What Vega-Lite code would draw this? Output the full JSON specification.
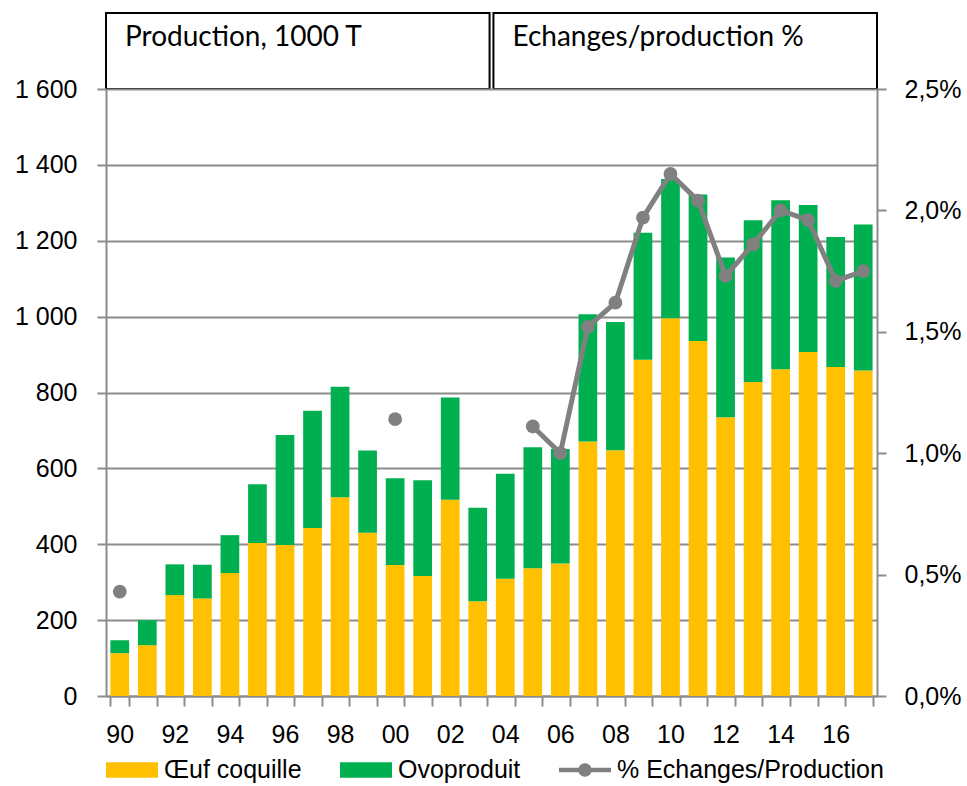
{
  "$schema": "https://vega.github.io/schema/vega-lite/v6.json",
  "padding": {"left": 14, "top": 12, "right": 2, "bottom": 0},
  "background": "white",
  "bounds": "flush",
  "datasets": {
    "headers": [
      {"label": "Production, 1000 T"},
      {"label": "Echanges/production %"}
    ],
    "prod": [
      {"year": 1990, "type": "Œuf coquille", "value": 113}, {"year": 1990, "type": "Ovoproduit", "value": 34},
      {"year": 1991, "type": "Œuf coquille", "value": 134}, {"year": 1991, "type": "Ovoproduit", "value": 66},
      {"year": 1992, "type": "Œuf coquille", "value": 266}, {"year": 1992, "type": "Ovoproduit", "value": 81},
      {"year": 1993, "type": "Œuf coquille", "value": 257}, {"year": 1993, "type": "Ovoproduit", "value": 89},
      {"year": 1994, "type": "Œuf coquille", "value": 324}, {"year": 1994, "type": "Ovoproduit", "value": 100},
      {"year": 1995, "type": "Œuf coquille", "value": 403}, {"year": 1995, "type": "Ovoproduit", "value": 155},
      {"year": 1996, "type": "Œuf coquille", "value": 398}, {"year": 1996, "type": "Ovoproduit", "value": 290},
      {"year": 1997, "type": "Œuf coquille", "value": 443}, {"year": 1997, "type": "Ovoproduit", "value": 309},
      {"year": 1998, "type": "Œuf coquille", "value": 524}, {"year": 1998, "type": "Ovoproduit", "value": 291},
      {"year": 1999, "type": "Œuf coquille", "value": 430}, {"year": 1999, "type": "Ovoproduit", "value": 217},
      {"year": 2000, "type": "Œuf coquille", "value": 345}, {"year": 2000, "type": "Ovoproduit", "value": 229},
      {"year": 2001, "type": "Œuf coquille", "value": 316}, {"year": 2001, "type": "Ovoproduit", "value": 253},
      {"year": 2002, "type": "Œuf coquille", "value": 517}, {"year": 2002, "type": "Ovoproduit", "value": 270},
      {"year": 2003, "type": "Œuf coquille", "value": 250}, {"year": 2003, "type": "Ovoproduit", "value": 246},
      {"year": 2004, "type": "Œuf coquille", "value": 309}, {"year": 2004, "type": "Ovoproduit", "value": 277},
      {"year": 2005, "type": "Œuf coquille", "value": 337}, {"year": 2005, "type": "Ovoproduit", "value": 319},
      {"year": 2006, "type": "Œuf coquille", "value": 349}, {"year": 2006, "type": "Ovoproduit", "value": 302},
      {"year": 2007, "type": "Œuf coquille", "value": 671}, {"year": 2007, "type": "Ovoproduit", "value": 335},
      {"year": 2008, "type": "Œuf coquille", "value": 648}, {"year": 2008, "type": "Ovoproduit", "value": 338},
      {"year": 2009, "type": "Œuf coquille", "value": 886}, {"year": 2009, "type": "Ovoproduit", "value": 335},
      {"year": 2010, "type": "Œuf coquille", "value": 996}, {"year": 2010, "type": "Ovoproduit", "value": 367},
      {"year": 2011, "type": "Œuf coquille", "value": 936}, {"year": 2011, "type": "Ovoproduit", "value": 386},
      {"year": 2012, "type": "Œuf coquille", "value": 735}, {"year": 2012, "type": "Ovoproduit", "value": 421},
      {"year": 2013, "type": "Œuf coquille", "value": 828}, {"year": 2013, "type": "Ovoproduit", "value": 426},
      {"year": 2014, "type": "Œuf coquille", "value": 861}, {"year": 2014, "type": "Ovoproduit", "value": 446},
      {"year": 2015, "type": "Œuf coquille", "value": 907}, {"year": 2015, "type": "Ovoproduit", "value": 387},
      {"year": 2016, "type": "Œuf coquille", "value": 867}, {"year": 2016, "type": "Ovoproduit", "value": 343},
      {"year": 2017, "type": "Œuf coquille", "value": 858}, {"year": 2017, "type": "Ovoproduit", "value": 385}
    ],
    "pct": [
      {"year": 1990, "pct": 0.43}, {"year": 1991, "pct": null}, {"year": 1992, "pct": null},
      {"year": 1993, "pct": null}, {"year": 1994, "pct": null}, {"year": 1995, "pct": null},
      {"year": 1996, "pct": null}, {"year": 1997, "pct": null}, {"year": 1998, "pct": null},
      {"year": 1999, "pct": null}, {"year": 2000, "pct": 1.14}, {"year": 2001, "pct": null},
      {"year": 2002, "pct": null}, {"year": 2003, "pct": null}, {"year": 2004, "pct": null},
      {"year": 2005, "pct": 1.11}, {"year": 2006, "pct": 1.0}, {"year": 2007, "pct": 1.52},
      {"year": 2008, "pct": 1.62}, {"year": 2009, "pct": 1.97}, {"year": 2010, "pct": 2.15},
      {"year": 2011, "pct": 2.04}, {"year": 2012, "pct": 1.73}, {"year": 2013, "pct": 1.86},
      {"year": 2014, "pct": 2.0}, {"year": 2015, "pct": 1.96}, {"year": 2016, "pct": 1.71},
      {"year": 2017, "pct": 1.75}
    ]
  },
  "vconcat": [
    {
      "width": 771,
      "height": 76,
      "data": {"name": "headers"},
      "layer": [
        {
          "mark": {"type": "rect", "fill": "white", "stroke": "black", "strokeWidth": 2},
          "encoding": {
            "x": {"field": "label", "type": "nominal", "sort": null, "axis": null,
                  "scale": {"paddingInner": 0.01, "paddingOuter": 0}}
          }
        },
        {
          "mark": {"type": "text", "align": "left", "baseline": "middle", "dx": 19, "dy": -13,
                   "font": "Lato", "fontSize": 28, "color": "black"},
          "encoding": {
            "x": {"field": "label", "type": "nominal", "sort": null, "bandPosition": 0, "axis": null},
            "text": {"field": "label"}
          }
        }
      ]
    },
    {
      "width": 771,
      "height": 607,
      "layer": [
        {
          "data": {"name": "prod"},
          "mark": {"type": "bar"},
          "encoding": {
            "x": {"field": "year", "type": "ordinal", "title": null,
                  "scale": {"paddingInner": 0.32, "paddingOuter": 0.16},
                  "axis": {"labelExpr": "datum.value % 2 == 0 ? substring(toString(datum.value), 2, 4) : ''",
                           "labelAngle": 0, "tickBand": "extent", "tickSize": 10, "labelPadding": 16,
                           "domainColor": "#8c8c8c", "domainWidth": 2, "tickColor": "#8c8c8c", "tickWidth": 2}},
            "y": {"field": "value", "type": "quantitative", "aggregate": "sum", "stack": "zero", "title": null,
                  "scale": {"domain": [0, 1600], "nice": false},
                  "axis": {"values": [0, 200, 400, 600, 800, 1000, 1200, 1400, 1600],
                           "labelExpr": "replace(format(datum.value, ','), ',', ' ')",
                           "grid": true, "gridColor": "#8c8c8c", "gridWidth": 2,
                           "tickSize": 9, "labelPadding": 20,
                           "domainColor": "#8c8c8c", "domainWidth": 2, "tickColor": "#8c8c8c", "tickWidth": 2}},
            "color": {"field": "type", "type": "nominal",
                      "sort": ["Œuf coquille", "Ovoproduit", "% Echanges/Production"],
                      "scale": {"domain": ["Œuf coquille", "Ovoproduit", "% Echanges/Production"],
                                "range": ["#FFC000", "#00B050", "#808080"]},
                      "legend": {
                        "title": null, "orient": "bottom", "direction": "horizontal", "offset": -3,
                        "symbolSize": 2704, "columnPadding": 38, "labelOffset": 6, "labelLimit": 400,
                        "symbolStrokeWidth": 0,
                        "encode": {
                          "symbols": {
                            "update": {
                              "shape": {"signal": "datum.value === '% Echanges/Production' ? 'M-1,-0.09H1V0.09H-1Z M0.26,0A0.26,0.26 0 1,1 -0.26,0A0.26,0.26 0 1,1 0.26,0Z' : 'M-1,-0.3H1V0.3H-1Z'"},
                              "fill": {"signal": "scale('color', datum.value)"},
                              "fillOpacity": {"value": 1},
                              "strokeWidth": {"value": 0}
                            }
                          }
                        }
                      }},
            "order": {"field": "type", "sort": "descending"}
          }
        },
        {
          "data": {"name": "pct"},
          "mark": {"type": "line", "strokeWidth": 5, "invalid": "break-paths-filter-domains",
                   "point": {"filled": true, "size": 190, "color": "#808080"}},
          "encoding": {
            "x": {"field": "year", "type": "ordinal"},
            "y": {"field": "pct", "type": "quantitative", "title": null,
                  "scale": {"domain": [0, 2.5], "nice": false},
                  "axis": {"orient": "right", "values": [0, 0.5, 1, 1.5, 2, 2.5],
                           "labelExpr": "replace(format(datum.value, '.1f'), '.', ',') + '%'",
                           "grid": false, "tickSize": 9, "labelPadding": 18,
                           "domainColor": "#8c8c8c", "domainWidth": 2, "tickColor": "#8c8c8c", "tickWidth": 2}},
            "color": {"datum": "% Echanges/Production"}
          }
        }
      ],
      "resolve": {"scale": {"y": "independent"}}
    }
  ],
  "spacing": 0,
  "config": {
    "view": {"stroke": null},
    "font": "Liberation Sans",
    "axis": {"labelFont": "Liberation Sans", "labelFontSize": 25, "labelColor": "black"},
    "legend": {"labelFont": "Liberation Sans", "labelFontSize": 25, "labelColor": "black"}
  }
}
